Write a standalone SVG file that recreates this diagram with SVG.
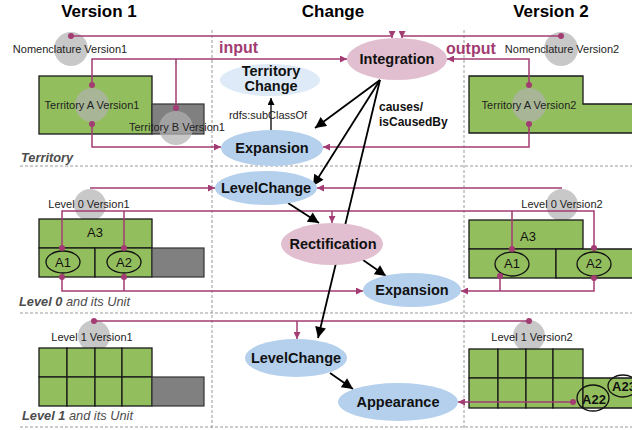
<svg xmlns="http://www.w3.org/2000/svg" width="632" height="430" viewBox="0 0 632 430">
<defs>
<style>
text{font-family:"Liberation Sans",Arial,sans-serif}
.hdr{font-size:17px;font-weight:bold;fill:#000;text-anchor:middle}
.lbl{font-size:11px;fill:#222;text-anchor:middle}
.nd{font-size:14.5px;font-weight:bold;fill:#111;text-anchor:middle}
.sec{font-size:12.8px;font-style:italic;fill:#4d4d4d}
.io{font-size:16px;font-weight:bold;fill:#a23c72}
.mag{stroke:#a23c72;stroke-width:1.5;fill:none}
.blk{stroke:#000;stroke-width:1.8;fill:none}
.dot{fill:#a23c72}
.grn{fill:#93be5d;stroke:#1a1a1a;stroke-width:1.3}
.gry{fill:#808080;stroke:#333;stroke-width:1.2}
.circ{fill:#b0b0b0;fill-opacity:.7}
.dash{stroke:#9a9a9a;stroke-dasharray:3 2;stroke-width:1;fill:none}
.pink{fill:#e1bfd0}
.blue{fill:#b4d0ed}
.lblue{fill:#deeaf8}
.cell{font-size:13px;fill:#111;text-anchor:middle}
</style>
<marker id="ma" viewBox="0 0 10 10" refX="10" refY="5" markerWidth="7" markerHeight="7" markerUnits="userSpaceOnUse" orient="auto"><path d="M0,0L10,5L0,10z" fill="#a23c72"/></marker>
<marker id="ba" viewBox="0 0 10 10" refX="10" refY="5" markerWidth="13" markerHeight="11" markerUnits="userSpaceOnUse" orient="auto"><path d="M0,0L10,5L0,10z" fill="#000"/></marker>
<marker id="bs" viewBox="0 0 10 10" refX="10" refY="5" markerWidth="8" markerHeight="7" markerUnits="userSpaceOnUse" orient="auto"><path d="M0,0L10,5L0,10z" fill="#000"/></marker>
</defs>
<rect width="632" height="430" fill="#fff"/>

<g id="grid">
<line class="dash" x1="212" y1="30" x2="212" y2="430"/>
<line class="dash" x1="464" y1="30" x2="464" y2="430"/>
<line class="dash" x1="20" y1="166" x2="632" y2="166"/>
<line class="dash" x1="20" y1="313" x2="632" y2="313"/>
<line class="dash" x1="20" y1="427" x2="632" y2="427"/>
</g>

<g id="headers">
<text class="hdr" x="99" y="17">Version 1</text>
<text class="hdr" x="333" y="17">Change</text>
<text class="hdr" x="551" y="17">Version 2</text>
<text class="io" x="219" y="53">input</text>
<text class="io" x="446" y="54">output</text>
<text class="sec" x="21" y="162" font-weight="bold">Territory</text>
<text class="sec" x="19" y="306"><tspan font-weight="bold">Level 0</tspan> and its Unit</text>
<text class="sec" x="22" y="420"><tspan font-weight="bold">Level 1</tspan> and its Unit</text>
</g>

<g id="nomenclature-v1">
<circle class="circ" cx="71" cy="49" r="17"/>
<text class="lbl" x="70" y="53">Nomenclature Version1</text>
</g>
<g id="territory-a-v1">
<rect class="grn" x="39" y="76" width="113" height="58"/>
</g>
<g id="territory-b-v1">
<rect class="gry" x="152" y="104" width="52" height="30"/>
</g>
<g id="territory-a-v1-label">
<circle class="circ" cx="92" cy="105" r="17"/>
<text class="lbl" x="92" y="109">Territory A Version1</text>
</g>
<g id="territory-b-v1-label">
<circle class="circ" cx="176" cy="128" r="17"/>
<text class="lbl" x="177" y="131">Territory B Version1</text>
</g>

<g id="nomenclature-v2">
<circle class="circ" cx="561" cy="49" r="17"/>
<text class="lbl" x="562" y="53">Nomenclature Version2</text>
</g>
<g id="territory-a-v2">
<path class="grn" d="M469,76H583V104H634V133H469Z"/>
<circle class="circ" cx="529" cy="105" r="17"/>
<text class="lbl" x="529" y="109">Territory A Version2</text>
</g>

<g id="level0-v1">
<circle class="circ" cx="90" cy="205" r="16"/>
<rect class="grn" x="39" y="219" width="113" height="29"/>
<text class="cell" x="95" y="237">A3</text>
<rect class="grn" x="39" y="248" width="56" height="29"/>
<rect class="grn" x="95" y="248" width="57" height="29"/>
<rect class="gry" x="152" y="248" width="52" height="29"/>
<ellipse cx="63" cy="262" rx="17" ry="11" fill="none" stroke="#111" stroke-width="1.3"/>
<text class="cell" x="63" y="267">A1</text>
<ellipse cx="124" cy="262" rx="17" ry="11" fill="none" stroke="#111" stroke-width="1.3"/>
<text class="cell" x="124" y="267">A2</text>
<text class="lbl" x="89" y="208">Level 0 Version1</text>
</g>

<g id="level0-v2">
<circle class="circ" cx="562" cy="205" r="16"/>
<rect class="grn" x="469" y="220" width="114" height="29"/>
<text class="cell" x="528" y="241" font-size="17">A3</text>
<rect class="grn" x="469" y="249" width="87" height="29"/>
<path d="M556,249H634V278H556Z" fill="#93be5d" stroke="#1a1a1a" stroke-width="1.3"/>
<ellipse cx="512" cy="264" rx="17" ry="12" fill="none" stroke="#111" stroke-width="1.3"/>
<text class="cell" x="512" y="268">A1</text>
<ellipse cx="594" cy="264" rx="17" ry="12" fill="none" stroke="#111" stroke-width="1.3"/>
<text class="cell" x="594" y="268">A2</text>
<text class="lbl" x="562" y="208">Level 0 Version2</text>
</g>

<g id="level1-v1">
<circle class="circ" cx="94" cy="336" r="16"/>
<rect class="grn" x="39" y="348" width="28" height="29"/>
<rect class="grn" x="67" y="348" width="28" height="29"/>
<rect class="grn" x="95" y="348" width="27" height="29"/>
<rect class="grn" x="122" y="348" width="30" height="29"/>
<rect class="grn" x="39" y="377" width="28" height="29"/>
<rect class="grn" x="67" y="377" width="28" height="29"/>
<rect class="grn" x="95" y="377" width="27" height="29"/>
<rect class="grn" x="122" y="377" width="30" height="29"/>
<rect class="gry" x="152" y="377" width="52" height="29"/>
<text class="lbl" x="92" y="341">Level 1 Version1</text>
</g>

<g id="level1-v2">
<circle class="circ" cx="529" cy="336" r="16"/>
<rect class="grn" x="469" y="349" width="29" height="29"/>
<rect class="grn" x="498" y="349" width="28" height="29"/>
<rect class="grn" x="526" y="349" width="27" height="29"/>
<rect class="grn" x="553" y="349" width="30" height="29"/>
<rect class="grn" x="469" y="378" width="29" height="30"/>
<rect class="grn" x="498" y="378" width="28" height="30"/>
<rect class="grn" x="526" y="378" width="27" height="30"/>
<rect class="grn" x="553" y="378" width="30" height="30"/>
<path d="M583,378H634V408H583Z" fill="#93be5d" stroke="#1a1a1a" stroke-width="1.3"/>
<text class="lbl" x="532" y="341">Level 1 Version2</text>
</g>
<g id="a22">
<ellipse cx="593" cy="398" rx="16" ry="13" fill="none" stroke="#111" stroke-width="1.3"/>
<text x="594" y="404" font-size="13" font-weight="bold" text-anchor="middle" fill="#111">A22</text>
</g>
<g id="a23">
<ellipse cx="623" cy="386" rx="15" ry="11" fill="none" stroke="#111" stroke-width="1.3"/>
<text x="624" y="391" font-size="13" font-weight="bold" text-anchor="middle" fill="#111">A23</text>
</g>

<g id="connectors">
<path class="mag" d="M71,36H392V38" marker-end="url(#ma)"/>
<path class="mag" d="M561,36H402V38" marker-end="url(#ma)"/>
<path class="mag" d="M92,85V59H347" marker-end="url(#ma)"/>
<path class="mag" d="M176,108V59"/>
<path class="mag" d="M92,124V147H221" marker-end="url(#ma)"/>
<path class="mag" d="M529,85V59H447" marker-end="url(#ma)"/>
<path class="mag" d="M529,124V147H323" marker-end="url(#ma)"/>
<path class="mag" d="M90,188H215" marker-end="url(#ma)"/>
<path class="mag" d="M562,188H317" marker-end="url(#ma)"/>
<path class="mag" d="M62,247V211H594V247M124,247V211M512,249V211"/>
<path class="mag" d="M332,211V223" marker-end="url(#ma)"/>
<path class="mag" d="M124,277V291"/>
<path class="mag" d="M62,277V291H363" marker-end="url(#ma)"/>
<path class="mag" d="M500,276V291"/>
<path class="mag" d="M594,278V291H461" marker-end="url(#ma)"/>
<path class="mag" d="M94,321H529"/>
<path class="mag" d="M297,321V339" marker-end="url(#ma)"/>
<path class="mag" d="M573,402H458" marker-end="url(#ma)"/>
<g class="dot">
<circle cx="71" cy="36" r="3"/><circle cx="561" cy="36" r="3"/>
<circle cx="92" cy="85" r="3"/><circle cx="92" cy="124" r="3"/><circle cx="176" cy="108" r="3"/>
<circle cx="529" cy="85" r="3"/><circle cx="529" cy="124" r="3"/>
<circle cx="62" cy="248" r="3"/><circle cx="124" cy="248" r="3"/><circle cx="62" cy="277" r="3"/><circle cx="124" cy="277" r="3"/>
<circle cx="512" cy="249" r="3"/><circle cx="594" cy="248" r="3"/><circle cx="500" cy="276" r="3"/><circle cx="594" cy="278" r="3"/>
<circle cx="94" cy="321" r="3"/><circle cx="529" cy="321" r="3"/><circle cx="573" cy="402" r="3"/>
</g>
<line class="blk" x1="380" y1="80" x2="315" y2="128" marker-end="url(#ba)"/>
<line class="blk" x1="380" y1="80" x2="313" y2="186" marker-end="url(#ba)"/>
<line class="blk" x1="380" y1="80" x2="318" y2="338" marker-end="url(#ba)"/>
<line class="blk" x1="288" y1="203" x2="319" y2="223" marker-end="url(#ba)"/>
<line class="blk" x1="363" y1="260" x2="386" y2="276" marker-end="url(#ba)"/>
<line class="blk" x1="330" y1="373" x2="353" y2="389" marker-end="url(#ba)"/>
<line x1="271" y1="130" x2="271" y2="98" stroke="#000" stroke-width="1.3" marker-end="url(#bs)"/>
<text x="268" y="119" font-size="11" text-anchor="middle" fill="#222">rdfs:subClassOf</text>
<text x="379" y="111" font-size="12" font-weight="bold" fill="#111">causes/</text>
<text x="379" y="126" font-size="12" font-weight="bold" fill="#111">isCausedBy</text>
</g>

<g id="integration">
<ellipse class="pink" cx="397" cy="59" rx="50" ry="21"/>
<text class="nd" x="397" y="64">Integration</text>
</g>
<g id="territory-change">
<ellipse class="lblue" cx="270" cy="80" rx="50" ry="16"/>
<text class="nd" x="271" y="76" font-size="12.5">Territory</text>
<text class="nd" x="271" y="91" font-size="12.5">Change</text>
</g>
<g id="expansion-territory">
<ellipse class="blue" cx="272" cy="148" rx="51" ry="18"/>
<text class="nd" x="272" y="153">Expansion</text>
</g>
<g id="levelchange-0">
<ellipse class="blue" cx="266" cy="188" rx="51" ry="17"/>
<text class="nd" x="266" y="193">LevelChange</text>
</g>
<g id="rectification">
<ellipse class="pink" cx="332" cy="244" rx="51" ry="21"/>
<text class="nd" x="333" y="249">Rectification</text>
</g>
<g id="expansion-level0">
<ellipse class="blue" cx="412" cy="290" rx="49" ry="17"/>
<text class="nd" x="412" y="295">Expansion</text>
</g>
<g id="levelchange-1">
<ellipse class="blue" cx="296" cy="358" rx="51" ry="19"/>
<text class="nd" x="296" y="363">LevelChange</text>
</g>
<g id="appearance">
<ellipse class="blue" cx="398" cy="402" rx="60" ry="19"/>
<text class="nd" x="398" y="407">Appearance</text>
</g>
</svg>
